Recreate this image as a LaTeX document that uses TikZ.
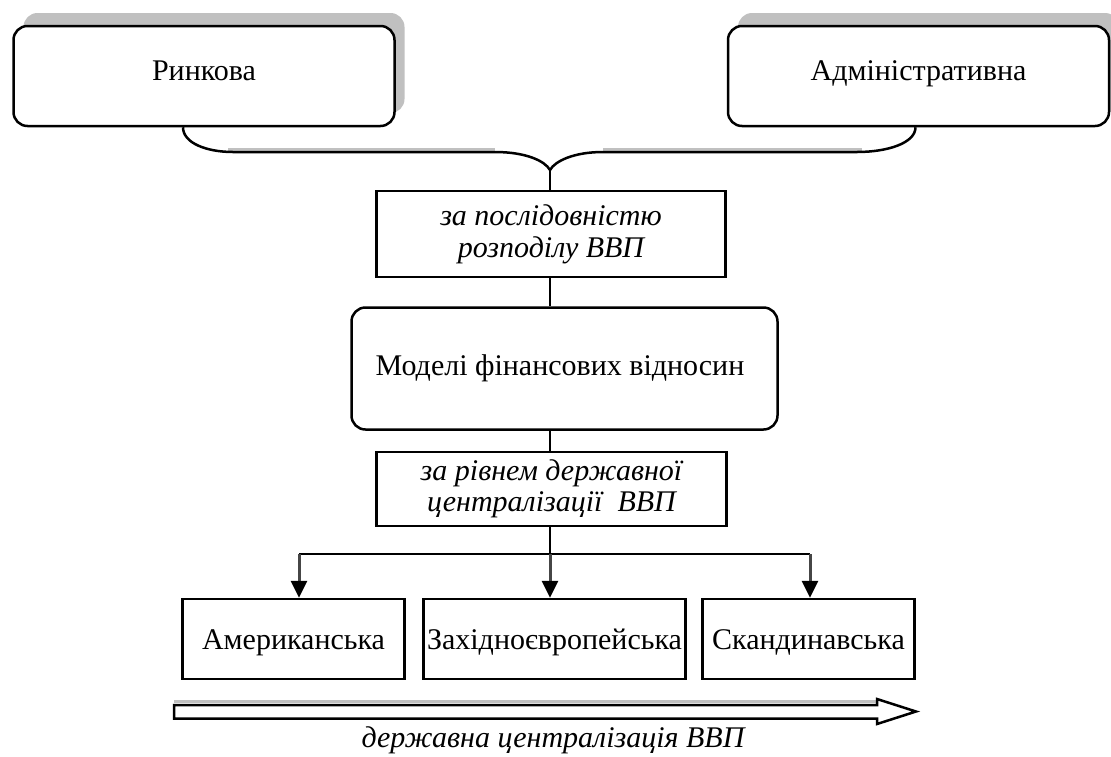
\documentclass[tikz,border=0pt]{standalone}
\usepackage{fontspec}
\setmainfont{Liberation Serif}
\usetikzlibrary{arrows.meta,shadows,calc}
\definecolor{shade}{RGB}{192,192,192}
\definecolor{stemc}{RGB}{70,70,70}
\begin{document}
\begin{tikzpicture}[x=1pt,y=-1pt,
  upf/.style={font=\fontsize{30}{32}\selectfont},
  itf/.style={font=\fontsize{30}{32}\selectfont\itshape},
  topbox/.style={draw=black, line width=2.5pt, rounded corners=14pt, fill=white,
    inner sep=0pt, minimum width=381pt, minimum height=100pt, upf,
    text height=20pt, text depth=12pt,
    general shadow={fill=shade, shadow xshift=10pt, shadow yshift=13pt}},
  midbox/.style={draw=black, line width=2.5pt, rounded corners=14pt, fill=white,
    inner sep=0pt, upf},
  critbox/.style={draw=black, line width=2.5pt, fill=white, inner sep=0pt,
    align=center, itf},
  modbox/.style={draw=black, line width=2.5pt, fill=white, inner sep=0pt,
    minimum height=80pt, upf, text height=20pt, text depth=0pt},
  conn/.style={draw=black, line width=2.5pt},
  shadeline/.style={draw=shade, line width=3pt},
  downarrow/.style={draw=stemc, line width=3pt, -{Triangle[length=17pt,width=16pt,fill=black,color=black]}},
  bigarrow/.style={draw=black, line width=2.5pt, fill=white, line join=miter},
  caption/.style={itf, anchor=base, inner sep=0pt}
]
\useasboundingbox (0,0) rectangle (1111,756);

% top boxes
\node[topbox] (rynk) at (204,76) {Ринкова};
\node[topbox] (adm) at (918.5,76) {Адміністративна};

% brace
\coordinate (tip) at (550,170);
\draw[shadeline] (228,149) -- (495,149);
\draw[shadeline] (603,149) -- (862,149);
\draw[conn] ([xshift=-21pt]rynk.south) .. controls +(0,16) and +(-26,0) .. (233,152)
  -- (495,152) .. controls (526,152) and (545,161) .. (tip);
\draw[conn] (tip) .. controls (555,161) and (574,152) .. (603,152)
  -- (857,152) .. controls +(30,0) and +(0,16) .. ([xshift=-3pt]adm.south);

% criterion 1
\node[critbox, minimum width=349pt, minimum height=86pt] (crit1) at (551,234)
  {за послідовністю\\[0pt]розподілу ВВП};
\draw[conn] (tip) -- (tip |- crit1.north);

% central box
\node[midbox, minimum width=426pt, minimum height=122pt] (model) at (564.5,368.5)
  {\hspace*{-9pt}Моделі фінансових відносин};
\draw[conn] (crit1.south -| tip) -- (model.north -| tip);

% criterion 2
\node[critbox, minimum width=350pt, minimum height=74pt] (crit2) at (551.5,489)
  {за рівнем державної\\[-1pt]централізації\ \ ВВП};
\draw[conn] (model.south -| tip) -- (crit2.north -| tip);

% distribution
\coordinate (hl) at (299,554);
\coordinate (hm) at (550,554);
\coordinate (hr) at (810,554);
\draw[conn] (crit2.south -| hm) -- (hm);
\draw[conn] (hl) -- (hr);

% bottom boxes
\node[modbox, minimum width=222pt] (amer) at (293.5,639) {Американська};
\node[modbox, minimum width=262pt] (west) at (554.5,639) {Західноєвропейська};
\node[modbox, minimum width=212pt] (scan) at (808.5,639) {Скандинавська};

\draw[downarrow] (hl) -- (hl |- amer.north);
\draw[downarrow] (hm) -- (hm |- west.north);
\draw[downarrow] (hr) -- (hr |- scan.north);

% wide arrow
\draw[shadeline] (174,701.5) -- (876,701.5);
\draw[bigarrow] (174,705) -- (877,705) -- (877,699) -- (916,711.5) -- (877,724)
  -- (877,718.5) -- (174,718.5) -- cycle;
\node[caption] (cap) at (553,747.5) {державна централізація ВВП};
\end{tikzpicture}
\end{document}
